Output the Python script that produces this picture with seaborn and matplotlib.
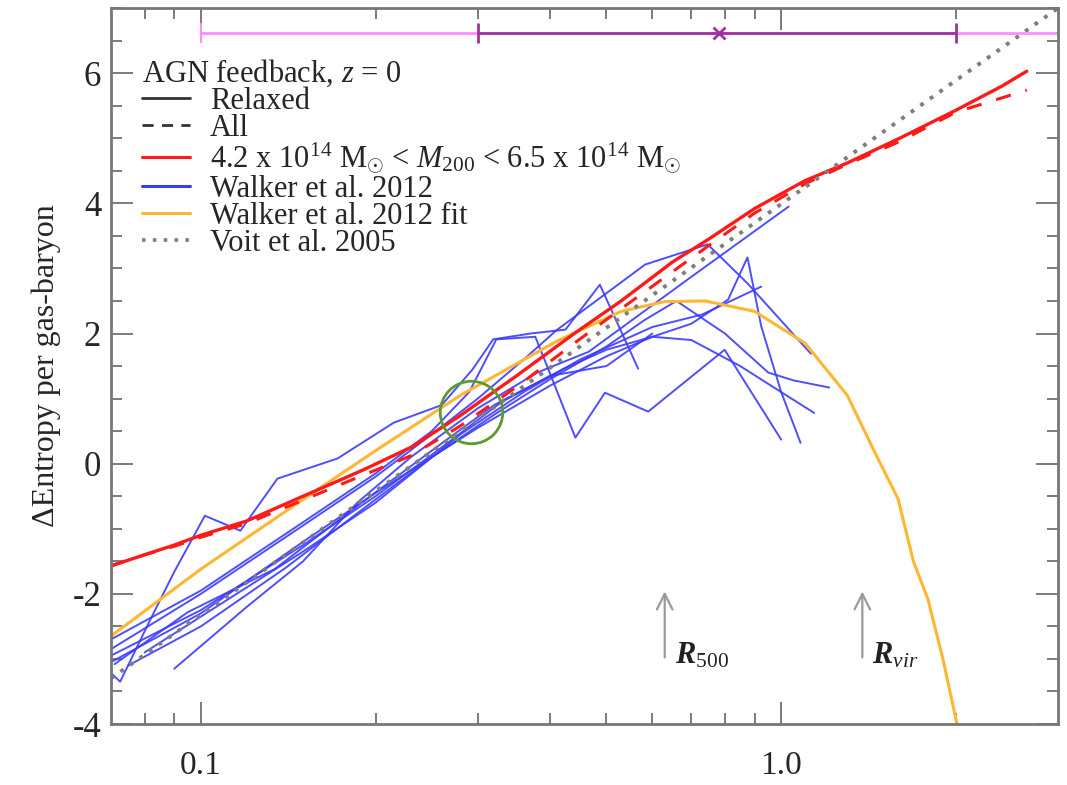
import numpy as np
import pandas as pd
import matplotlib
matplotlib.use("Agg")
import matplotlib.pyplot as plt
import seaborn as sns
from matplotlib.lines import Line2D
from matplotlib.ticker import FixedLocator, NullFormatter, MultipleLocator

sns.set_style("ticks")
plt.rcParams["font.family"] = ["Liberation Serif", "DejaVu Serif"]
plt.rcParams["mathtext.fontset"] = "custom"
plt.rcParams["mathtext.rm"] = "Liberation Serif"
plt.rcParams["mathtext.it"] = "Liberation Serif:italic"
plt.rcParams["mathtext.bf"] = "Liberation Serif:bold:italic"
plt.rcParams["axes.unicode_minus"] = False

# ---------------- data ----------------
red_r = [0.07, 0.08, 0.09, 0.10, 0.12, 0.15, 0.19, 0.23, 0.28, 0.35, 0.44, 0.53,
         0.65, 0.75, 0.90, 1.10, 1.30, 1.60, 2.00, 2.40, 2.65]
relaxed_s = [-1.57, -1.40, -1.25, -1.10, -0.88, -0.50, -0.10, 0.25, 0.74, 1.35, 2.00, 2.50,
             3.10, 3.45, 3.92, 4.35, 4.62, 5.00, 5.43, 5.80, 6.03]
all_s = [-1.57, -1.40, -1.27, -1.13, -0.92, -0.56, -0.18, 0.12, 0.58, 1.18, 1.85, 2.38,
         2.95, 3.35, 3.85, 4.30, 4.60, 4.95, 5.40, 5.62, 5.74]

fit_r = [0.07, 0.10, 0.15, 0.20, 0.28, 0.41, 0.53, 0.63, 0.74, 0.90, 1.10, 1.30,
         1.46, 1.59, 1.69, 1.79, 1.90, 2.02]
fit_s = [-2.65, -1.62, -0.55, 0.20, 1.05, 1.88, 2.34, 2.49, 2.50, 2.34, 1.85, 1.05,
         0.12, -0.54, -1.50, -2.08, -3.00, -4.10]

voit_r = [0.07, 3.0]
voit_s = [-3.30, 7.0]

w1_r = [0.0697, 0.0726, 0.082, 0.090, 0.1016, 0.117, 0.1355, 0.172, 0.215, 0.26, 0.294, 0.319, 0.37, 0.425, 0.487, 0.567]
w1_s = [-3.20, -3.35, -2.38, -1.66, -0.80, -1.03, -0.23, 0.08, 0.63, 0.90, 1.45, 1.91, 2.00, 2.06, 2.75, 1.46]
w2_r = [0.07, 0.10, 0.15, 0.20, 0.25, 0.29, 0.323, 0.377, 0.397, 0.442, 0.497, 0.59, 0.799, 1.0]
w2_s = [-2.70, -1.95, -0.90, -0.15, 0.50, 1.10, 1.91, 1.95, 1.45, 0.40, 1.09, 0.80, 1.75, 0.37]
w3_r = [0.09, 0.12, 0.15, 0.186, 0.23, 0.30, 0.38, 0.466, 0.69, 1.03]
w3_s = [-3.15, -2.20, -1.50, -0.60, 0.10, 0.85, 1.40, 1.72, 2.83, 3.95]
w4_r = [0.07, 0.10, 0.15, 0.20, 0.30, 0.40, 0.50, 0.60, 0.70, 0.81, 0.875, 0.924, 1.0, 1.08]
w4_s = [-3.05, -2.30, -1.20, -0.45, 0.55, 1.20, 1.65, 1.95, 2.15, 2.52, 3.17, 2.11, 1.10, 0.32]
w5_r = [0.07, 0.10, 0.15, 0.20, 0.25, 0.30, 0.36, 0.41, 0.583, 0.747, 0.875, 1.125]
w5_s = [-2.85, -2.00, -0.95, -0.20, 0.45, 1.00, 1.60, 2.05, 3.06, 3.37, 2.77, 1.69]
w6_r = [0.075, 0.10, 0.14, 0.19, 0.25, 0.32, 0.40, 0.50, 0.58, 0.66, 0.80, 0.95, 1.05, 1.21]
w6_s = [-3.10, -2.50, -1.60, -0.70, 0.10, 0.75, 1.30, 1.80, 2.20, 2.50, 2.00, 1.40, 1.28, 1.17]
w7_r = [0.07, 0.10, 0.15, 0.20, 0.26, 0.33, 0.42, 0.50, 0.60, 0.70, 0.85, 1.0, 1.14]
w7_s = [-2.95, -2.25, -1.25, -0.50, 0.25, 0.95, 1.45, 1.75, 1.95, 1.90, 1.50, 1.10, 0.78]
w8_r = [0.08, 0.10, 0.15, 0.20, 0.28, 0.36, 0.45, 0.60, 0.73, 0.924]
w8_s = [-2.90, -2.35, -1.35, -0.60, 0.45, 1.10, 1.60, 2.10, 2.29, 2.72]
w9_r = [0.071, 0.095, 0.134, 0.186, 0.25, 0.32, 0.40, 0.50, 0.60]
w9_s = [-3.08, -2.28, -1.62, -0.65, 0.20, 0.90, 1.35, 1.50, 2.00]

r500, rvir = 0.63, 1.38
arrow_lo, arrow_hi = -3.02, -1.92
bar_y, bar_mid = 6.62, 0.78
bar_inner = (0.30, 2.0)
bar_outer = (0.10, 3.6)
circ_r, circ_s = 0.292, 0.80

# ---------------- figure ----------------
fig = plt.figure(figsize=(10.67, 7.85), dpi=100)
ax = fig.add_axes([0.104, 0.0777, 0.8876, 0.912])
ax.set_xscale("log")

profiles = [(w1_r, w1_s), (w2_r, w2_s), (w3_r, w3_s), (w4_r, w4_s), (w5_r, w5_s),
            (w6_r, w6_s), (w7_r, w7_s), (w8_r, w8_s), (w9_r, w9_s)]
rows = []
for i, (rr, ss) in enumerate(profiles):
    for k, (a, b) in enumerate(zip(rr, ss)):
        rows.append({"cluster": i, "order": k, "r": a, "s": b})
blue_df = pd.DataFrame(rows)

blue = "#3b3bff"
red = "#ff1a1a"
orange = "#ffb733"

sns.lineplot(data=blue_df, x="r", y="s", units="cluster", estimator=None, sort=False,
             color=blue, lw=1.4, alpha=0.9, ax=ax)
sns.lineplot(x=fit_r, y=fit_s, sort=False, estimator=None, color=orange, lw=2.2, ax=ax)
sns.lineplot(x=red_r, y=all_s, sort=False, estimator=None, color=red, lw=2.2,
             ax=ax, linestyle=(0, (5, 5)))
sns.lineplot(x=red_r, y=relaxed_s, sort=False, estimator=None, color=red, lw=2.4, ax=ax)
sns.lineplot(x=voit_r, y=voit_s, sort=False, estimator=None, color="#7e7e7e", lw=2.8,
             ax=ax, linestyle=(0, (1, 2.0)))

# top error bars
ax.errorbar([bar_mid], [bar_y], xerr=[[bar_mid - bar_outer[0]], [bar_outer[1] - bar_mid]],
            fmt="none", ecolor="#ff8cff", elinewidth=2, capsize=7, capthick=1.5)
ax.errorbar([bar_mid], [bar_y], xerr=[[bar_mid - bar_inner[0]], [bar_inner[1] - bar_mid]],
            fmt="x", color="#a0329f", ecolor="#a0329f", elinewidth=2, capsize=7,
            capthick=1.5, ms=9, mew=2)

# arrows
for rx, lab in [(r500, r"$\mathbf{R}_{\mathit{500}}$"), (rvir, r"$\mathbf{R}_{\mathit{vir}}$")]:
    ax.annotate("", xy=(rx, arrow_hi), xytext=(rx, arrow_lo),
                arrowprops=dict(arrowstyle="->", color="#9a9a9a", lw=1.6, mutation_scale=28))
    ax.text(rx * 1.04, arrow_lo - 0.05, lab, fontsize=22, ha="left", va="baseline",
            color="#222222")

# green circle
ax.plot([circ_r], [circ_s], "o", ms=45, mfc="none", mec="#5c9a30", mew=2)

# axes
ax.set_xlim(0.07, 3.0)
ax.set_ylim(-4, 7.0)
ax.xaxis.set_major_locator(FixedLocator([0.1, 1.0]))
ax.set_xticklabels(["0.1", "1.0"])
ax.xaxis.set_minor_locator(FixedLocator([0.08, 0.09, 0.2, 0.3, 0.4, 0.5, 0.6, 0.7, 0.8, 0.9, 2.0]))
ax.xaxis.set_minor_formatter(NullFormatter())
ax.yaxis.set_major_locator(MultipleLocator(2))
ax.yaxis.set_minor_locator(MultipleLocator(0.5))
ax.tick_params(which="both", direction="in", top=True, right=True, color="#666666", width=1.2)
ax.tick_params(which="major", length=16, labelsize=25)
ax.tick_params(which="minor", length=8)
ax.tick_params(axis="x", which="major", pad=19, labelsize=24)
ax.tick_params(axis="y", which="major", pad=7)
for sp in ax.spines.values():
    sp.set_color("#777777")
    sp.set_linewidth(2)
ax.set_xlabel("")
ax.set_ylabel("ΔEntropy per gas-baryon", fontsize=23, labelpad=8)

handles = [
    Line2D([], [], color="#333333", lw=2),
    Line2D([], [], color="#333333", lw=2, linestyle=(0, (4, 3))),
    Line2D([], [], color=red, lw=2.2),
    Line2D([], [], color=blue, lw=2.2),
    Line2D([], [], color=orange, lw=2.2),
    Line2D([], [], color="#7e7e7e", lw=2.6, linestyle=(0, (1, 2.0))),
]
labels = [
    "Relaxed",
    "All",
    r"4.2 x 10$^{14}$ M$_{\odot}$ < $M_{200}$ < 6.5 x 10$^{14}$ M$_{\odot}$",
    "Walker et al. 2012",
    "Walker et al. 2012 fit",
    "Voit et al. 2005",
]
leg = ax.legend(handles, labels, loc="upper left", bbox_to_anchor=(0.01, 0.961),
                frameon=False, fontsize=22, title=r"AGN feedback, $z$ = 0",
                title_fontsize=22, alignment="left", handlelength=1.57,
                handletextpad=0.65, labelspacing=-0.06, borderpad=0.2)

fig.savefig("out.png", dpi=100)
